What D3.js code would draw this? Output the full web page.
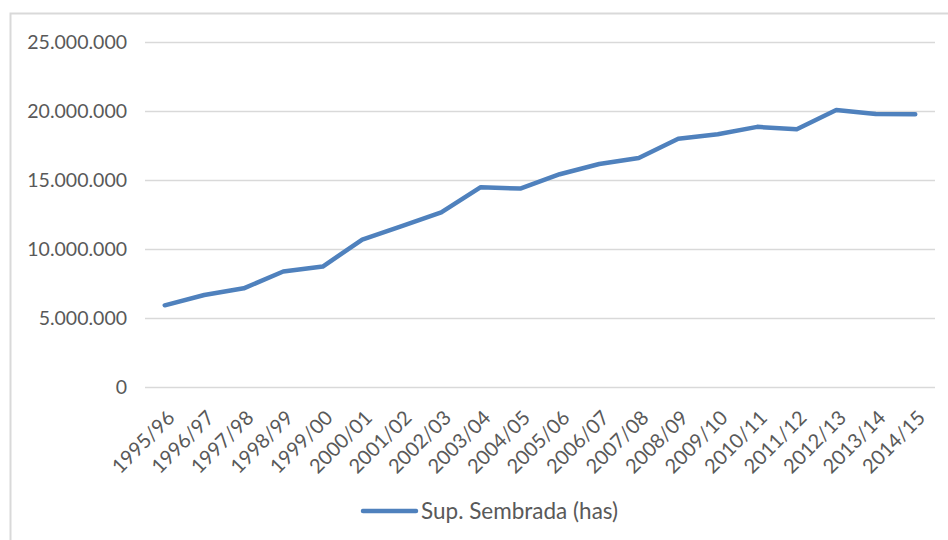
<!DOCTYPE html>
<html>
<head>
<meta charset="utf-8">
<script src="https://cdn.jsdelivr.net/npm/d3@7"></script>
<style>
    body { margin: 0; background: #fff; }
    svg text { font-family: Lato, "Open Sans", sans-serif; fill: #595959; }
</style>
</head>
<body>
<div id="graphic"></div>
<script>
// Dati
var campanas = ["1995/96", "1996/97", "1997/98", "1998/99", "1999/00", "2000/01", "2001/02",
    "2002/03", "2003/04", "2004/05", "2005/06", "2006/07", "2007/08", "2008/09", "2009/10",
    "2010/11", "2011/12", "2012/13", "2013/14", "2014/15"];
var superficie = [5920000, 6670000, 7150000, 8370000, 8730000, 10680000, 11650000,
    12650000, 14480000, 14380000, 15420000, 16160000, 16600000, 17990000, 18320000,
    18850000, 18680000, 20070000, 19780000, 19770000];
var yTicks = [0, 5000000, 10000000, 15000000, 20000000, 25000000];
var serieNome = "Sup. Sembrada (has)";

var W = 948, H = 540;
var margin = {top: 42, left: 145, right: 13, bottom: 153};
var w = W - margin.left - margin.right;
var h = H - margin.top - margin.bottom;

var svg = d3.select('#graphic')
    .append('svg')
    .attr('width', W)
    .attr('height', H);

// cornice
svg.append('rect')
    .attr('x', 10.5)
    .attr('y', 13.5)
    .attr('width', W + 20)
    .attr('height', H + 20)
    .attr('fill', 'none')
    .attr('stroke', '#d9d9d9')
    .attr('stroke-width', 2);

var g = svg.append('g')
    .attr('transform', 'translate(' + margin.left + ',' + margin.top + ')');

var xScale = d3.scaleBand()
    .domain(campanas)
    .range([0, w]);
var yScale = d3.scaleLinear()
    .domain([0, 25000000])
    .range([h, 0]);

var fmt = function (v) {
    return d3.format(',')(v).replace(/,/g, '.');
};

// griglia + asse y
var yAxis = d3.axisLeft(yScale)
    .tickValues(yTicks)
    .tickSize(-w)
    .tickPadding(18)
    .tickFormat(fmt);
var ya = g.append('g').call(yAxis);
ya.select('.domain').remove();
ya.selectAll('.tick line').attr('stroke', '#d9d9d9').attr('stroke-width', 1.3);
ya.selectAll('.tick text').style('font-size', '19.5px');

// asse x
var xAxis = d3.axisBottom(xScale).tickSize(0);
var xa = g.append('g')
    .attr('transform', 'translate(0,' + h + ')')
    .call(xAxis);
xa.select('.domain').remove();
xa.selectAll('.tick text')
    .style('font-size', '20px')
    .attr('text-anchor', 'end')
    .attr('dy', 0)
    .attr('transform', 'translate(9,30) rotate(-45)');

// linea
var line = d3.line()
    .x(function (d, i) { return xScale(campanas[i]) + xScale.bandwidth() / 2; })
    .y(function (d) { return yScale(d); });
g.append('path')
    .datum(superficie)
    .attr('d', line)
    .attr('fill', 'none')
    .attr('stroke', '#4f81bd')
    .attr('stroke-width', 4.5)
    .attr('stroke-linejoin', 'round')
    .attr('stroke-linecap', 'round');

// legenda
var leg = svg.append('g').attr('transform', 'translate(363,511)');
leg.append('line')
    .attr('x1', 0).attr('x2', 53)
    .attr('stroke', '#4f81bd')
    .attr('stroke-width', 4.5)
    .attr('stroke-linecap', 'round');
leg.append('text')
    .attr('x', 58)
    .attr('dy', '0.35em')
    .style('font-size', '22.5px')
    .text(serieNome);
</script>
</body>
</html>
